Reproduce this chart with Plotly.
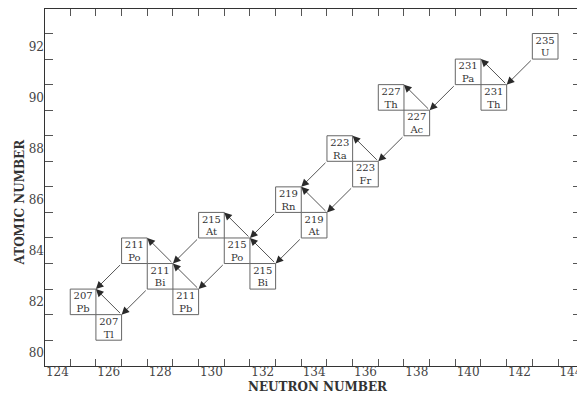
import plotly.graph_objects as go

# Nuclides of the U-235 (actinium) decay series
neutrons = [143, 141, 140, 138, 137, 136, 135, 134, 133, 132, 131, 130, 129, 128, 127, 126, 125]
protons = [92, 90, 91, 89, 90, 87, 88, 85, 86, 83, 84, 85, 82, 83, 84, 81, 82]
mass_numbers = [235, 231, 231, 227, 227, 223, 223, 219, 219, 215, 215, 215, 211, 211, 211, 207, 207]
symbols = ["U", "Th", "Pa", "Ac", "Th", "Fr", "Ra", "At", "Rn", "Bi", "Po", "At", "Pb", "Bi", "Po", "Tl", "Pb"]

# Decay links (parent -> daughter), keyed by symbol + mass number
decays = [
    ("U235", "Th231"), ("Th231", "Pa231"), ("Pa231", "Ac227"),
    ("Ac227", "Th227"), ("Ac227", "Fr223"), ("Fr223", "Ra223"),
    ("Ra223", "Rn219"), ("Fr223", "At219"), ("At219", "Rn219"),
    ("Rn219", "Po215"), ("At219", "Bi215"), ("Bi215", "Po215"),
    ("Po215", "At215"), ("Po215", "Pb211"), ("At215", "Bi211"),
    ("Pb211", "Bi211"), ("Bi211", "Po211"), ("Bi211", "Tl207"),
    ("Po211", "Pb207"), ("Tl207", "Pb207"),
]

x_labels = list(range(124, 145, 2))
y_labels = list(range(80, 93, 2))
x_minor = [v + 0.5 for v in range(124, 144)]
y_minor = [v + 0.5 for v in range(80, 93)]

X_RANGE = [123.517, 144.24]
Y_RANGE = [79.49, 93.46]

SERIF = "DejaVu Serif"
INK = "#333333"

index = {f"{s}{m}": i for i, (s, m) in enumerate(zip(symbols, mass_numbers))}

fig = go.Figure()

# Nuclide cells
shapes = []
for n, z in zip(neutrons, protons):
    shapes.append(dict(type="rect", xref="x", yref="y",
                       x0=n - 0.5, x1=n + 0.5, y0=z - 0.5, y1=z + 0.5,
                       line=dict(color="#666666", width=1), fillcolor="rgba(0,0,0,0)"))

fig.add_trace(go.Scatter(
    x=neutrons, y=[z + 0.2 for z in protons], mode="text",
    text=[str(m) for m in mass_numbers],
    textfont=dict(family=SERIF, size=10, color=INK),
    hoverinfo="skip", showlegend=False))
fig.add_trace(go.Scatter(
    x=neutrons, y=[z - 0.3 for z in protons], mode="text",
    text=symbols,
    textfont=dict(family=SERIF, size=10, color=INK),
    hoverinfo="skip", showlegend=False))

# Empty traces so the overlay axes carrying the tick marks get drawn
fig.add_trace(go.Scatter(x=[], y=[], xaxis="x2", yaxis="y2", hoverinfo="skip", showlegend=False))
fig.add_trace(go.Scatter(x=[], y=[], xaxis="x", yaxis="y3", hoverinfo="skip", showlegend=False))

# Decay arrows: alpha leaves the parent's lower-left corner, beta its upper-right;
# both end at the daughter's upper-right corner
annotations = []
for parent, daughter in decays:
    p, d = index[parent], index[daughter]
    pn, pz = neutrons[p], protons[p]
    dn, dz = neutrons[d], protons[d]
    if dz < pz:  # alpha
        tail = (pn - 0.5, pz - 0.5)
    else:        # beta
        tail = (pn + 0.5, pz + 0.5)
    annotations.append(dict(
        x=dn + 0.5, y=dz + 0.5, xref="x", yref="y",
        ax=tail[0], ay=tail[1], axref="x", ayref="y",
        showarrow=True, arrowhead=2, arrowsize=1.9, arrowwidth=0.8,
        arrowcolor="#2a2a2a", standoff=0, startstandoff=0, text=""))

annotations.append(dict(text="NEUTRON NUMBER", xref="paper", yref="paper",
                        x=0.513, y=-0.058, xanchor="center", yanchor="middle",
                        showarrow=False,
                        font=dict(family=SERIF, size=12, color=INK, weight="bold")))
annotations.append(dict(text="ATOMIC NUMBER", xref="paper", yref="paper",
                        x=-0.047, y=0.461, xanchor="center", yanchor="middle",
                        textangle=-90, showarrow=False,
                        font=dict(family=SERIF, size=12, color=INK, weight="bold")))

tickfont = dict(family=SERIF, size=12, color="#444444")

fig.update_layout(
    width=577, height=394,
    margin=dict(l=45, r=0, t=9, b=28),
    paper_bgcolor="white", plot_bgcolor="white",
    shapes=shapes, annotations=annotations, showlegend=False,
    xaxis=dict(range=X_RANGE, tickvals=x_labels, ticks="", showgrid=False,
               zeroline=False, showline=False, tickfont=tickfont, automargin=False,
               ticklabelstandoff=-3, ticklabeloverflow="allow"),
    yaxis=dict(range=Y_RANGE, tickvals=y_labels, ticks="", showgrid=False,
               zeroline=False, showline=False, tickfont=tickfont, automargin=False),
    xaxis2=dict(range=X_RANGE, overlaying="x", anchor="y2", side="bottom",
                tickvals=x_minor, ticks="inside", ticklen=7, tickcolor="#555555",
                showticklabels=False, showline=True, linecolor=INK, linewidth=1,
                mirror="ticks", showgrid=False, zeroline=False),
    yaxis2=dict(range=Y_RANGE, overlaying="y", anchor="x2", side="left",
                tickvals=y_minor, ticks="inside", ticklen=8, tickcolor="#555555",
                showticklabels=False, showline=True, linecolor=INK, linewidth=1,
                showgrid=False, zeroline=False),
    yaxis3=dict(range=Y_RANGE, overlaying="y", anchor="x", side="right",
                tickvals=y_minor, ticks="inside", ticklen=4, tickcolor="#555555",
                showticklabels=False, showline=False, showgrid=False, zeroline=False),
)

fig.write_html("out.html")
